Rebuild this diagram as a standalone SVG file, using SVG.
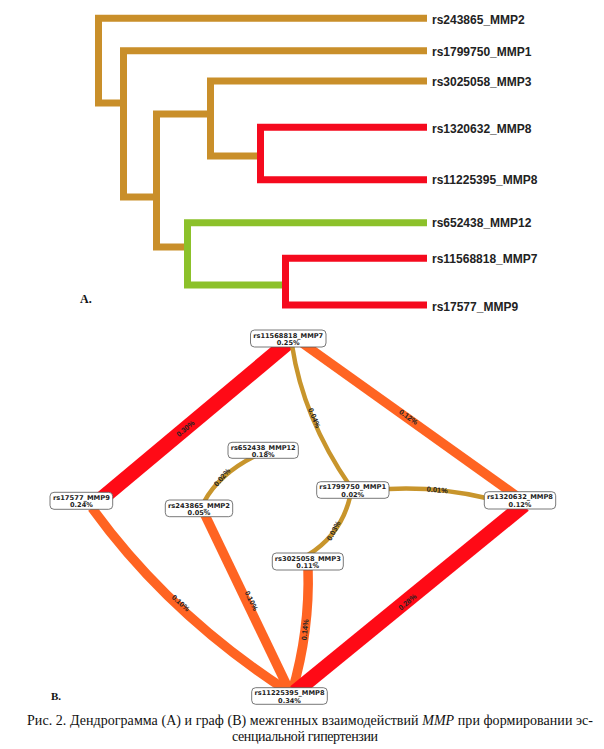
<svg xmlns="http://www.w3.org/2000/svg" width="604" height="749" viewBox="0 0 604 749">
<style>
.dg{fill:none;stroke-width:7;stroke-linejoin:miter;stroke-linecap:butt}
.gold{stroke:#C98F2A}
.red{stroke:#F50A1E}
.green{stroke:#8CC12A}
.leaf{font-family:"Liberation Sans",Arial,sans-serif;font-size:12px;font-weight:bold;fill:#222}
.e{fill:none;stroke-linecap:butt}
.eg{stroke:#C8952C;stroke-width:4.5}
.eo{stroke:#FF6422;stroke-width:9.5}
.er{stroke:#FF0A16;stroke-width:15}
.el{font-family:"Liberation Sans",Arial,sans-serif;font-size:7.4px;font-weight:bold;fill:#222;text-anchor:middle}
.box{fill:#fff;stroke:#555;stroke-width:0.8}
.nt{font-family:"DejaVu Sans","Liberation Sans",sans-serif;font-size:6.6px;font-weight:bold;fill:#222;text-anchor:middle}
.cap{font-family:"Liberation Serif","Times New Roman",serif;font-size:14px;fill:#111}
.pl{font-family:"Liberation Serif","Times New Roman",serif;font-weight:bold;fill:#111}
</style>
<rect width="604" height="749" fill="#fff"/>

<g id="dendrogram">
  <path class="dg gold" d="M427,18.3 H98.5 V103 H123"/>
  <path class="dg gold" d="M427,50.7 H123.5 V197 H156"/>
  <path class="dg gold" d="M427,81 H210.5 V156 H257"/>
  <path class="dg gold" d="M210.5,114 H156.5 V247 H184"/>
  <path class="dg red" d="M427,127.3 H260.5 V179.7 H427"/>
  <path class="dg green" d="M427,222.7 H187.5 V285 H282"/>
  <path class="dg red" d="M427,258.3 H285.5 V305 H427"/>
  <g id="leaf-labels">
    <text class="leaf" x="432" y="24.3">rs243865_MMP2</text>
    <text class="leaf" x="432" y="56">rs1799750_MMP1</text>
    <text class="leaf" x="432" y="86">rs3025058_MMP3</text>
    <text class="leaf" x="432" y="132.6">rs1320632_MMP8</text>
    <text class="leaf" x="432" y="184.3">rs11225395_MMP8</text>
    <text class="leaf" x="432" y="227">rs652438_MMP12</text>
    <text class="leaf" x="432" y="262.6">rs11568818_MMP7</text>
    <text class="leaf" x="432" y="311">rs17577_MMP9</text>
  </g>
  <text class="pl" x="80" y="303" font-size="12">A.</text>
</g>

<g id="connectors">
  <path class="e er" d="M290,341 L100,500"/>
  <path class="e eo" d="M298,340 L518,497"/>
  <path class="e eg" d="M292,345 Q303,418 350,486"/>
  <path class="e eg" d="M255,456 Q218.5,474.5 204,502"/>
  <path class="e eg" d="M389,489 Q436.5,486.5 486,498"/>
  <path class="e eg" d="M350,497 Q341,534.5 308,555"/>
  <path class="e eo" d="M92,508 Q169.5,615 289,692"/>
  <path class="e eo" d="M205,515 L290,692"/>
  <path class="e eo" d="M308,568 Q310,631 292,692"/>
  <path class="e er" d="M524,505 L295,692"/>
  <text class="el" transform="translate(187,430.5) rotate(-39.5)">0.30%</text>
  <text class="el" transform="translate(407,419) rotate(35.5)">0.12%</text>
  <text class="el" transform="translate(312,419) rotate(68)">0.04%</text>
  <text class="el" transform="translate(224,479) rotate(-50)">0.02%</text>
  <text class="el" transform="translate(437,492.5) rotate(5)">0.01%</text>
  <text class="el" transform="translate(336,532) rotate(-62)">0.03%</text>
  <text class="el" transform="translate(179,605) rotate(42)">0.10%</text>
  <text class="el" transform="translate(249,602) rotate(64)">0.10%</text>
  <text class="el" transform="translate(307.5,630) rotate(-84)">0.14%</text>
  <text class="el" transform="translate(409,604) rotate(-39.5)">0.28%</text>
</g>

<g id="node-mmp7">
  <rect class="box" x="250.5" y="330" width="75.5" height="17" rx="4"/>
  <text class="nt" x="288.2" y="337.6" textLength="70" lengthAdjust="spacingAndGlyphs">rs11568818_MMP7</text>
  <text class="nt" x="288.2" y="345">0.25%</text>
</g>
<g id="node-mmp12">
  <rect class="box" x="228" y="442.3" width="70.3" height="16" rx="4"/>
  <text class="nt" x="263.2" y="449.6" textLength="65" lengthAdjust="spacingAndGlyphs">rs652438_MMP12</text>
  <text class="nt" x="263.2" y="456.8">0.18%</text>
</g>
<g id="node-mmp9">
  <rect class="box" x="50" y="492.3" width="62.7" height="17" rx="4"/>
  <text class="nt" x="81.4" y="499.9" textLength="57" lengthAdjust="spacingAndGlyphs">rs17577_MMP9</text>
  <text class="nt" x="81.4" y="507.3">0.24%</text>
</g>
<g id="node-mmp2">
  <rect class="box" x="165.3" y="500" width="67.4" height="16.7" rx="4"/>
  <text class="nt" x="199" y="507.6" textLength="62" lengthAdjust="spacingAndGlyphs">rs243865_MMP2</text>
  <text class="nt" x="199" y="514.9">0.05%</text>
</g>
<g id="node-mmp1">
  <rect class="box" x="316.7" y="481.7" width="72.3" height="16.6" rx="4"/>
  <text class="nt" x="352.8" y="489.2" textLength="67" lengthAdjust="spacingAndGlyphs">rs1799750_MMP1</text>
  <text class="nt" x="352.8" y="496.5">0.02%</text>
</g>
<g id="node-mmp8a">
  <rect class="box" x="484.3" y="491.7" width="71.4" height="17.3" rx="4"/>
  <text class="nt" x="520" y="499.3" textLength="66" lengthAdjust="spacingAndGlyphs">rs1320632_MMP8</text>
  <text class="nt" x="520" y="506.8">0.12%</text>
</g>
<g id="node-mmp3">
  <rect class="box" x="272.3" y="553" width="71" height="17" rx="4"/>
  <text class="nt" x="307.8" y="560.6" textLength="66" lengthAdjust="spacingAndGlyphs">rs3025058_MMP3</text>
  <text class="nt" x="307.8" y="568">0.11%</text>
</g>
<g id="node-mmp8b">
  <rect class="box" x="251.7" y="687.7" width="75.6" height="16.6" rx="4"/>
  <text class="nt" x="289.5" y="695.2" textLength="70" lengthAdjust="spacingAndGlyphs">rs11225395_MMP8</text>
  <text class="nt" x="289.5" y="702.5">0.34%</text>
</g>

<text class="pl" x="51" y="700" font-size="11">В.</text>

<g id="caption">
  <text class="cap" x="27" y="725" textLength="566" lengthAdjust="spacing">Рис. 2. Дендрограмма (А) и граф (В) межгенных взаимодействий <tspan font-style="italic">MMP</tspan> при формировании эс-</text>
  <text class="cap" x="232" y="741" textLength="146" lengthAdjust="spacing">сенциальной гипертензии</text>
</g>
</svg>
